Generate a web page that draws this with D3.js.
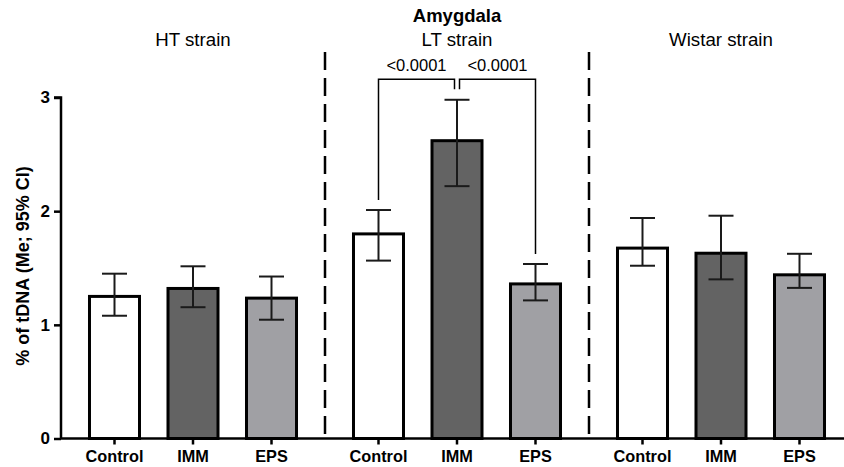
<!DOCTYPE html>
<html>
<head>
<meta charset="utf-8">
<script src="https://cdn.jsdelivr.net/npm/d3@7"></script>
<style>
  body { margin: 0; background: #fff; }
  svg { font-family: "Liberation Sans", Arial, sans-serif; }
</style>
</head>
<body>
<svg id="chart" width="844" height="467"></svg>
<script>
const strains = ["HT strain", "LT strain", "Wistar strain"];
const conditions = ["Control", "IMM", "EPS"];
// median and 95% CI per strain, in condition order
const medians = [
  [1.25, 1.32, 1.235],
  [1.80, 2.62, 1.36],
  [1.675, 1.63, 1.44]
];
const ciLow = [
  [1.08, 1.155, 1.045],
  [1.565, 2.22, 1.215],
  [1.52, 1.40, 1.325]
];
const ciHigh = [
  [1.45, 1.515, 1.425],
  [2.01, 2.98, 1.535],
  [1.94, 1.96, 1.625]
];
const yTicks = [0, 1, 2, 3];
const fills = { Control: "#ffffff", IMM: "#636363", EPS: "#a0a0a4" };
// significance brackets in LT strain
const comparisons = [
  { from: "Control", to: "IMM", label: "<0.0001" },
  { from: "IMM", to: "EPS", label: "<0.0001" }
];

const svg = d3.select("#chart");
const plotLeft = 61, plotBottom = 438.5, plotTop = 97.5;

const x0 = d3.scaleBand().domain(strains).range([plotLeft, plotLeft + 792]).padding(0);
const x1 = d3.scaleBand().domain(conditions).range([0, x0.bandwidth()]).padding(0.363);
const y = d3.scaleLinear().domain([0, 3]).range([plotBottom, plotTop]);

const cx = (s, c) => x0(s) + x1(c) + x1.bandwidth() / 2;

// dashed separators
strains.slice(1).forEach(s => {
  svg.append("line")
    .attr("x1", x0(s)).attr("x2", x0(s))
    .attr("y1", 52).attr("y2", plotBottom)
    .attr("stroke", "#000").attr("stroke-width", 2.5)
    .attr("stroke-dasharray", "18,8");
});

// bars
strains.forEach((s, si) => {
  const g = svg.append("g");
  conditions.forEach((c, ci) => {
    g.append("rect")
      .attr("x", x0(s) + x1(c))
      .attr("width", x1.bandwidth())
      .attr("y", y(medians[si][ci]))
      .attr("height", plotBottom - y(medians[si][ci]))
      .attr("fill", fills[c])
      .attr("stroke", "#000")
      .attr("stroke-width", 3);
    const xc = cx(s, c);
    const eb = g.append("g").attr("stroke", "#1a1a1a").attr("stroke-width", 2);
    eb.append("line").attr("x1", xc).attr("x2", xc)
      .attr("y1", y(ciLow[si][ci])).attr("y2", y(ciHigh[si][ci]));
    [ciLow[si][ci], ciHigh[si][ci]].forEach(v => {
      eb.append("line").attr("x1", xc - 12.5).attr("x2", xc + 12.5)
        .attr("y1", y(v)).attr("y2", y(v));
    });
  });
});

// x axis
const xAxis = svg.append("g").attr("transform", `translate(0,${plotBottom})`);
xAxis.append("line").attr("x1", plotLeft).attr("x2", plotLeft + 792)
  .attr("stroke", "#000").attr("stroke-width", 2.5);
strains.forEach(s => {
  conditions.forEach(c => {
    const xc = cx(s, c);
    xAxis.append("line").attr("x1", xc).attr("x2", xc).attr("y1", 0).attr("y2", 6)
      .attr("stroke", "#000").attr("stroke-width", 2.5);
    xAxis.append("text").attr("x", xc).attr("y", 23)
      .attr("text-anchor", "middle").attr("font-weight", "bold")
      .attr("font-size", 16.3).text(c);
  });
});

// y axis
const yAxis = d3.axisLeft(y).tickValues(yTicks).tickSize(7).tickPadding(4).tickFormat(d3.format("d"));
svg.append("g").attr("transform", `translate(${plotLeft},0)`).call(yAxis)
  .call(g => g.select(".domain").attr("stroke-width", 2.5).attr("d", `M-7,${plotTop}H0V${plotBottom}`))
  .call(g => g.selectAll(".tick line").attr("stroke-width", 2.5))
  .call(g => g.selectAll(".tick text").attr("font-size", 17).attr("font-weight", "bold")
    .attr("font-family", "'Liberation Sans', Arial, sans-serif").attr("fill", "#000"));

svg.append("text")
  .attr("transform", `translate(28.5,266) rotate(-90)`)
  .attr("text-anchor", "middle").attr("font-weight", "bold").attr("font-size", 18)
  .text("% of tDNA (Me; 95% CI)");

// titles
svg.append("text").attr("x", x0("LT strain") + x0.bandwidth() / 2).attr("y", 22)
  .attr("text-anchor", "middle").attr("font-weight", "bold").attr("font-size", 18.5)
  .text("Amygdala");
strains.forEach(s => {
  svg.append("text").attr("x", x0(s) + x0.bandwidth() / 2).attr("y", 46)
    .attr("text-anchor", "middle").attr("font-size", 18.7).text(s);
});

// significance brackets
const bracketY = 79.3;
const lt = "LT strain";
const hi = ciHigh[strains.indexOf(lt)];
comparisons.forEach((cmp, i) => {
  const a = conditions.indexOf(cmp.from), b = conditions.indexOf(cmp.to);
  let xa = cx(lt, cmp.from), xb = cx(lt, cmp.to);
  if (i === 0) xb -= 2.5; else xa += 2.5;
  const ya = i === 0 ? y(hi[a]) - 10 : bracketY + 10;
  const yb = i === 0 ? bracketY + 10 : y(hi[b]) - 10;
  svg.append("path")
    .attr("d", `M${xa},${ya}V${bracketY}H${xb}V${yb}`)
    .attr("fill", "none").attr("stroke", "#000").attr("stroke-width", 1.5);
  svg.append("text").attr("x", (xa + xb) / 2).attr("y", 71)
    .attr("text-anchor", "middle").attr("font-size", 16.5).text(cmp.label);
});
</script>
</body>
</html>
